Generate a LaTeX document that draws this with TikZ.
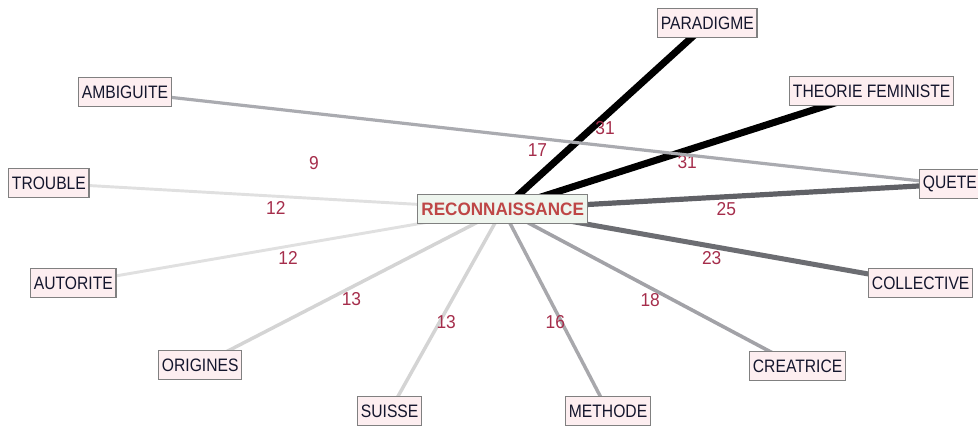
\documentclass[tikz,border=0pt]{standalone}
\usepackage{fontspec}
\setmainfont{Liberation Sans}
\newfontfamily\motfont[FakeStretch=0.87]{Liberation Sans}
\newfontfamily\pivotfont[FakeStretch=0.95]{Liberation Sans}
\newfontfamily\poidsfont[FakeStretch=0.93]{Liberation Sans}
\usetikzlibrary{backgrounds}

\definecolor{bordgris}{RGB}{128,128,128}
\definecolor{fondrose}{RGB}{253,238,240}
\definecolor{fondvert}{RGB}{238,245,238}
\definecolor{encre}{RGB}{20,22,45}
\definecolor{rouille}{RGB}{190,70,70}
\definecolor{poidsrouge}{RGB}{165,45,75}

\tikzset{every picture/.style={line width=0.75pt},
	mot/.style={draw=bordgris, line width=1.1pt, fill=fondrose, text=encre,
		font=\motfont\fontsize{13.5pt}{15pt}\selectfont,
		inner xsep=2.4pt, inner ysep=0pt, minimum height=21.75pt, anchor=north west},
	pivot/.style={mot, fill=fondvert, text=rouille, inner xsep=2.8pt,
		font=\pivotfont\fontsize{13.5pt}{15pt}\selectfont\bfseries},
	poids/.style={text=poidsrouge, font=\poidsfont\fontsize{14pt}{15pt}\selectfont, yshift=-9pt},
	lien31/.style={draw=black, line width=5.25pt},
	lien25/.style={draw={rgb,255:red,96;green,97;blue,102}, line width=3.9pt},
	lien23/.style={draw={rgb,255:red,108;green,109;blue,114}, line width=3.75pt},
	lien18/.style={draw={rgb,255:red,162;green,162;blue,167}, line width=2.7pt},
	lien17/.style={draw={rgb,255:red,170;green,171;blue,176}, line width=2.4pt},
	lien16/.style={draw={rgb,255:red,168;green,168;blue,172}, line width=2.6pt},
	lien13/.style={draw={rgb,255:red,212;green,212;blue,212}, line width=2.6pt},
	lien12/.style={draw={rgb,255:red,224;green,224;blue,224}, line width=2.2pt}
}

\begin{document}
\begin{tikzpicture}[x=0.75pt,y=0.75pt,yscale=-1,xscale=1]
	\useasboundingbox (0,0) rectangle (978,426);
	
	% Text Node
	\node (rec) at (417,194) [pivot] {RECONNAISSANCE};
	% Text Node
	\node (par) at (657,8) [mot] {PARADIGME};
	% Text Node
	\node (theo) at (789,76) [mot] {THEORIE FEMINISTE};
	% Text Node
	\node (amb) at (78,77) [mot] {AMBIGUITE};
	% Text Node
	\node (trou) at (8,168) [mot] {TROUBLE};
	% Text Node
	\node (que) at (919,169) [mot] {QUETE};
	% Text Node
	\node (aut) at (30,268) [mot] {AUTORITE};
	% Text Node
	\node (col) at (868,268) [mot] {COLLECTIVE};
	% Text Node
	\node (ori) at (158,350) [mot] {ORIGINES};
	% Text Node
	\node (cre) at (749,351) [mot] {CREATRICE};
	% Text Node
	\node (sui) at (357,396) [mot] {SUISSE};
	% Text Node
	\node (met) at (565,396) [mot] {METHODE};
	
	\begin{scope}[on background layer]
		%Straight Lines
		\draw [lien12] (rec.center) -- (trou.center) node [poids, midway] {12};
		%Straight Lines
		\draw [lien12] (rec.center) -- (aut.center) node [poids, midway] {12};
		%Straight Lines
		\draw [lien13] (rec.center) -- (ori.center) node [poids, midway] {13};
		%Straight Lines
		\draw [lien13] (rec.center) -- (sui.center) node [poids, midway] {13};
		%Straight Lines
		\draw [lien16] (rec.center) -- (met.center) node [poids, midway] {16};
		%Straight Lines
		\draw [lien18] (rec.center) -- (cre.center) node [poids, midway] {18};
		%Straight Lines
		\draw [lien23] (rec.center) -- (col.center) node [poids, midway] {23};
		%Straight Lines
		\draw [lien25] (rec.center) -- (que.center) node [poids, midway] {25};
		%Straight Lines
		\draw [lien31] (rec.center) -- (theo.center) node [poids, midway] {31};
		%Straight Lines
		\draw [lien31] (rec.center) -- (par.center) node [poids, midway] {31};
		%Straight Lines
		\draw [lien17] (amb.center) -- (que.center) node [poids, midway] {17};
		% weight only, no line shown
		\path (rec.center) -- (amb.center) node [poids, midway] {9};
	\end{scope}
\end{tikzpicture}
\end{document}
